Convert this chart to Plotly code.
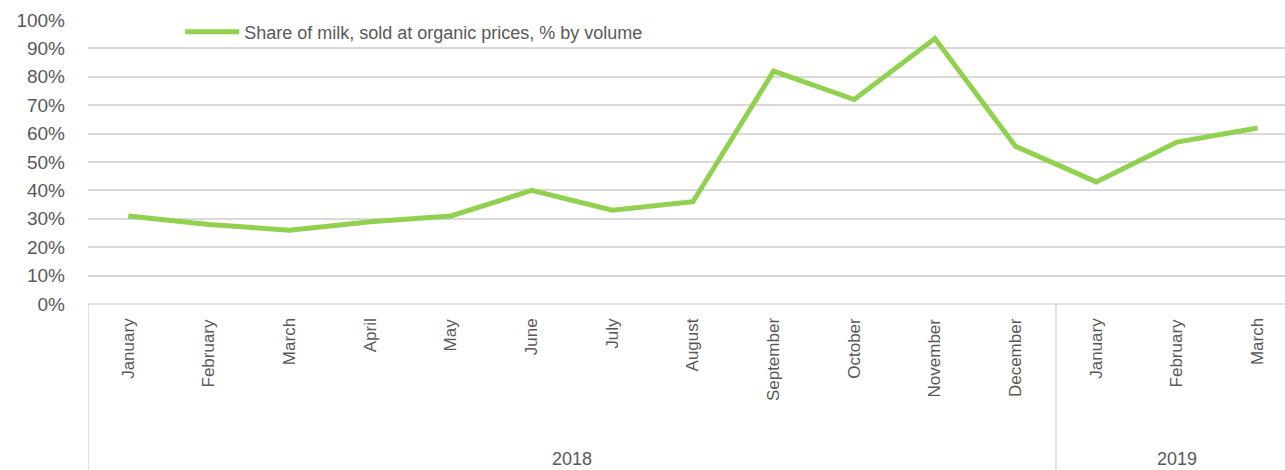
import plotly.graph_objects as go

months = ["January", "February", "March", "April", "May", "June", "July", "August",
          "September", "October", "November", "December", "January", "February", "March"]
years = ["2018"] * 12 + ["2019"] * 3
share = [0.31, 0.28, 0.26, 0.29, 0.31, 0.40, 0.33, 0.36, 0.82, 0.72, 0.935, 0.555, 0.43, 0.57, 0.62]
series_name = "Share of milk, sold at organic prices, % by volume"
y_ticks = [i / 10 for i in range(11)]

FONT = "Liberation Sans"
TXT = "#595959"
GRID = "#D9D9D9"

xs = list(range(len(months)))
fig = go.Figure()
fig.add_trace(go.Scatter(x=xs, y=share, mode="lines", name=series_name,
                         line=dict(color="#92D050", width=5)))

W, H = 1285, 470
ml, mt, mb = 88, 20, 166
plot_h = H - mt - mb
fig.update_layout(
    width=W, height=H,
    margin=dict(l=ml, r=0, t=mt, b=mb, autoexpand=False),
    plot_bgcolor="white", paper_bgcolor="white",
    showlegend=True,
    legend=dict(x=0.077, y=1 - 12 / plot_h, xanchor="left", yanchor="middle", orientation="h",
                bgcolor="rgba(0,0,0,0)", font=dict(family=FONT, size=18, color=TXT),
                itemwidth=54),
    xaxis=dict(range=[-0.5, 14.34], showgrid=False, showticklabels=False, zeroline=False,
               showline=False, fixedrange=True, automargin=False),
    yaxis=dict(range=[0, 1], tickvals=y_ticks, tickformat=".0%", showgrid=True,
               gridcolor=GRID, gridwidth=1.5, zeroline=False, showline=False, automargin=False,
               tickfont=dict(family=FONT, size=19, color=TXT), ticklabelstandoff=22),
)

# axis baseline
shapes = [dict(type="line", xref="paper", yref="paper", x0=0, x1=1, y0=0, y1=0,
               line=dict(color=GRID, width=1.5))]
ybot = -mb / plot_h
# group dividers
bounds = [-0.5]
for i in range(1, len(years)):
    if years[i] != years[i - 1]:
        bounds.append(i - 0.5)
for b in bounds:
    shapes.append(dict(type="line", xref="x", yref="paper", x0=b, x1=b, y0=0, y1=ybot,
                       line=dict(color=GRID, width=1.5)))
fig.update_layout(shapes=shapes)

ann = []
for i, m in enumerate(months):
    ann.append(dict(x=i, xref="x", y=-12 / plot_h, yref="paper", text=m, textangle=-90,
                    showarrow=False, xanchor="center", yanchor="top",
                    font=dict(family=FONT, size=17, color=TXT)))
# year labels
groups = []
start = 0
for i in range(1, len(years) + 1):
    if i == len(years) or years[i] != years[start]:
        groups.append((years[start], start, i - 1))
        start = i
for yr, s, e in groups:
    ann.append(dict(x=(s + e) / 2, xref="x", y=-155 / plot_h, yref="paper", text=yr,
                    showarrow=False, xanchor="center", yanchor="middle",
                    font=dict(family=FONT, size=18, color=TXT)))
fig.update_layout(annotations=ann)

fig.write_html("out.html", config={"displayModeBar": False},
               post_script="document.body.style.margin='0px';document.body.style.overflow='hidden';")
